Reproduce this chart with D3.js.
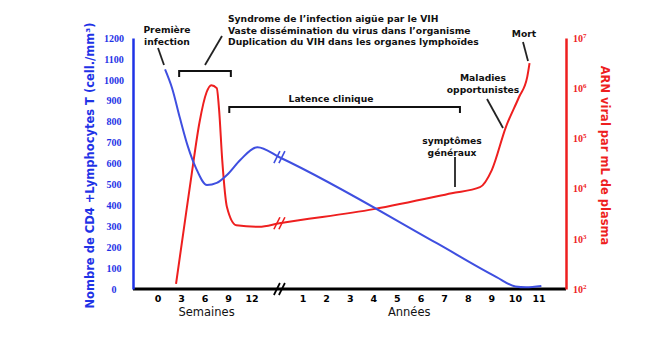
<!DOCTYPE html>
<meta charset="utf-8">
<style>
  body { margin: 0; background: #fff; }
  text { font-family: "DejaVu Sans", sans-serif; }
</style>
<div id="container"></div>
<script src="https://cdn.jsdelivr.net/npm/d3@7"></script>
<script>

// tick labels
const weekTicks = [0, 3, 6, 9, 12];
const yearTicks = [1, 2, 3, 4, 5, 6, 7, 8, 9, 10, 11];
const cd4Ticks = [0, 100, 200, 300, 400, 500, 600, 700, 800, 900, 1000, 1100, 1200];
const rnaTicks = [1e2, 1e3, 1e4, 1e5, 1e6, 1e7];

// CD4 (cell./mm3) : first weeks, then years
const cd4Weeks = [0.9, 1.8, 2.8, 3.8, 4.85, 6.25, 7.5, 8.8, 10.5, 12.7];
const cd4WeekVals = [1050, 960, 817, 683, 578, 497, 507, 545, 617, 678];
const cd4Years = [0, 6.65, 9.2, 10.0, 10.45, 11.1];
const cd4YearVals = [630, 220, 57, 12, 8, 14];

// ARN viral par mL
const rnaWeeks = [2.3, 3.3, 4.3, 5.3, 6.2, 6.8, 7.5, 7.8, 8.2, 8.8, 10.0, 12.9];
const rnaWeekVals = [126, 1580, 19500, 210000, 830000, 1150000, 1000000, 370000, 37000, 4300, 1860, 1740];
const rnaYears = [0, 4.0, 7.3, 8.5, 9.0, 9.6, 10.15, 10.5, 10.6];
const rnaYearVals = [2040, 3900, 8100, 10700, 23400, 170000, 660000, 1660000, 3160000];

const BLUE = '#3f4fe0', BLUE_AX = '#1f33e6', RED = '#ee1f1f', INK = '#111';

const width = 660, height = 339;
const axLeft = 133, axRight = 566, axTop = 38, axBottom = 289;

const xW = d3.scaleLinear().domain([0, 12]).range([158, 252]);
const xA = d3.scaleLinear().domain([1, 11]).range([303, 539]);
const yCD4 = d3.scaleLinear().domain([0, 1200]).range([axBottom, axTop]);
const yRNA = d3.scaleLog().domain([1e2, 1e7]).range([axBottom, axTop]);

const svg = d3.select('#container').append('svg')
    .attr('width', width).attr('height', height);

// x axis line
svg.append('line').attr('x1', axLeft).attr('x2', axRight).attr('y1', axBottom).attr('y2', axBottom)
    .attr('stroke', '#000').attr('stroke-width', 3);

// left axis
const ax1 = svg.append('g').attr('transform', `translate(${axLeft},0)`)
    .call(d3.axisLeft(yCD4).tickValues(cd4Ticks).tickSize(0).tickSizeOuter(0).tickFormat(d3.format('d')));
ax1.select('.domain').attr('stroke', BLUE_AX).attr('stroke-width', 2.5);
ax1.selectAll('text').attr('x', -19).attr('text-anchor', 'middle')
    .attr('fill', BLUE_AX).style('font-family', '"Liberation Serif", serif')
    .style('font-weight', 'bold').style('font-size', '10px');

// right axis
const ax2 = svg.append('g').attr('transform', `translate(${axRight},0)`)
    .call(d3.axisRight(yRNA).tickValues(rnaTicks).tickSize(0).tickSizeOuter(0).tickFormat(() => ''));
ax2.select('.domain').attr('stroke', RED).attr('stroke-width', 2.5);
ax2.selectAll('.tick text').attr('x', 7).attr('fill', RED)
    .style('font-family', '"Liberation Serif", serif').style('font-weight', 'bold').style('font-size', '10px')
    .each(function(d) {
      const t = d3.select(this);
      t.append('tspan').text('10');
      t.append('tspan').attr('dy', -4).style('font-size', '7px').text(Math.round(Math.log10(d)));
    });

// x tick labels
const xLab = svg.append('g').style('font-family', '"Liberation Serif", serif')
    .style('font-weight', 'bold').style('font-size', '9.5px').attr('text-anchor', 'middle');
xLab.selectAll('.w').data(weekTicks).enter().append('text')
    .attr('x', d => xW(d)).attr('y', 302).text(d => d);
xLab.selectAll('.a').data(yearTicks).enter().append('text')
    .attr('x', d => xA(d)).attr('y', 302).text(d => d);

svg.append('text').attr('x', xW(6.2)).attr('y', 316).attr('text-anchor', 'middle')
    .style('font-size', '11.5px').attr('fill', INK).text('Semaines');
svg.append('text').attr('x', xA(5.5)).attr('y', 316).attr('text-anchor', 'middle')
    .style('font-size', '11.5px').attr('fill', INK).text('Années');

// axis titles
svg.append('text').attr('transform', `translate(94,${(axTop + axBottom) / 2 + 2}) rotate(-90)`)
    .attr('text-anchor', 'middle').attr('fill', BLUE_AX).style('font-weight', 'bold').style('font-size', '11.5px')
    .text('Nombre de CD4 +Lymphocytes T (cell./mm³)');
svg.append('text').attr('transform', `translate(601,${(axTop + axBottom) / 2 - 8}) rotate(90)`)
    .attr('text-anchor', 'middle').attr('fill', RED).style('font-weight', 'bold').style('font-size', '11.5px')
    .text('ARN viral par mL de plasma');

// curves
const line = d3.line().x(d => d[0]).y(d => d[1]).curve(d3.curveMonotoneX);
const cd4Pts = cd4Weeks.map((t, i) => [xW(t), yCD4(cd4WeekVals[i])])
    .concat(cd4Years.map((t, i) => [xA(t), yCD4(cd4YearVals[i])]));
const rnaPts = rnaWeeks.map((t, i) => [xW(t), yRNA(rnaWeekVals[i])])
    .concat(rnaYears.map((t, i) => [xA(t), yRNA(rnaYearVals[i])]));

svg.append('path').attr('d', line(rnaPts)).attr('fill', 'none').attr('stroke', RED).attr('stroke-width', 2);
svg.append('path').attr('d', line(cd4Pts)).attr('fill', 'none').attr('stroke', BLUE).attr('stroke-width', 2);

// break marks //
function brk(cx, cy, color, w) {
  [-2.5, 2.5].forEach(o => {
    svg.append('line').attr('x1', cx + o - 3).attr('y1', cy + 6).attr('x2', cx + o + 3).attr('y2', cy - 6)
        .attr('stroke', color).attr('stroke-width', w);
  });
}
brk(xA(0), axBottom, '#000', 1.8);
brk(xA(0), yCD4(cd4YearVals[0]), BLUE, 1.6);
brk(xA(0), yRNA(rnaYearVals[0]), RED, 1.6);

// annotations
const ann = svg.append('g').attr('fill', INK).style('font-weight', 'bold').style('font-size', '9.2px');
function label(x, y, lines, anchor) {
  const t = ann.append('text').attr('x', x).attr('y', y).attr('text-anchor', anchor || 'middle');
  lines.forEach((s, i) => t.append('tspan').attr('x', x).attr('dy', i ? 11.5 : 0).text(s));
}
function stroke(x1, y1, x2, y2) {
  svg.append('line').attr('x1', x1).attr('y1', y1).attr('x2', x2).attr('y2', y2)
      .attr('stroke', '#222').attr('stroke-width', 1.8);
}
function bracket(x1, x2, y) {
  svg.append('path').attr('d', `M${x1},${y + 6}V${y}H${x2}V${y + 6}`)
      .attr('fill', 'none').attr('stroke', '#111').attr('stroke-width', 2);
}

label(167, 33, ['Première', 'infection']);
stroke(158, 48, 164, 65);

label(228, 22, ['Syndrome de l\u2019infection aigüe par le VIH',
                'Vaste dissémination du virus dans l\u2019organisme',
                'Duplication du VIH dans les organes lymphoïdes'], 'start');
stroke(205, 65, 222, 36);
bracket(xW(2.7), xW(9.3), 71);

bracket(xW(9.1), xA(7.65), 107);
label(331, 102, ['Latence clinique']);

label(483, 81, ['Maladies', 'opportunistes']);
stroke(487, 99, 503, 128);

label(452, 144, ['symptômes', 'généraux']);
stroke(455, 157, 455, 187);

label(524, 37, ['Mort']);
stroke(523, 42, 528, 61);

</script>
